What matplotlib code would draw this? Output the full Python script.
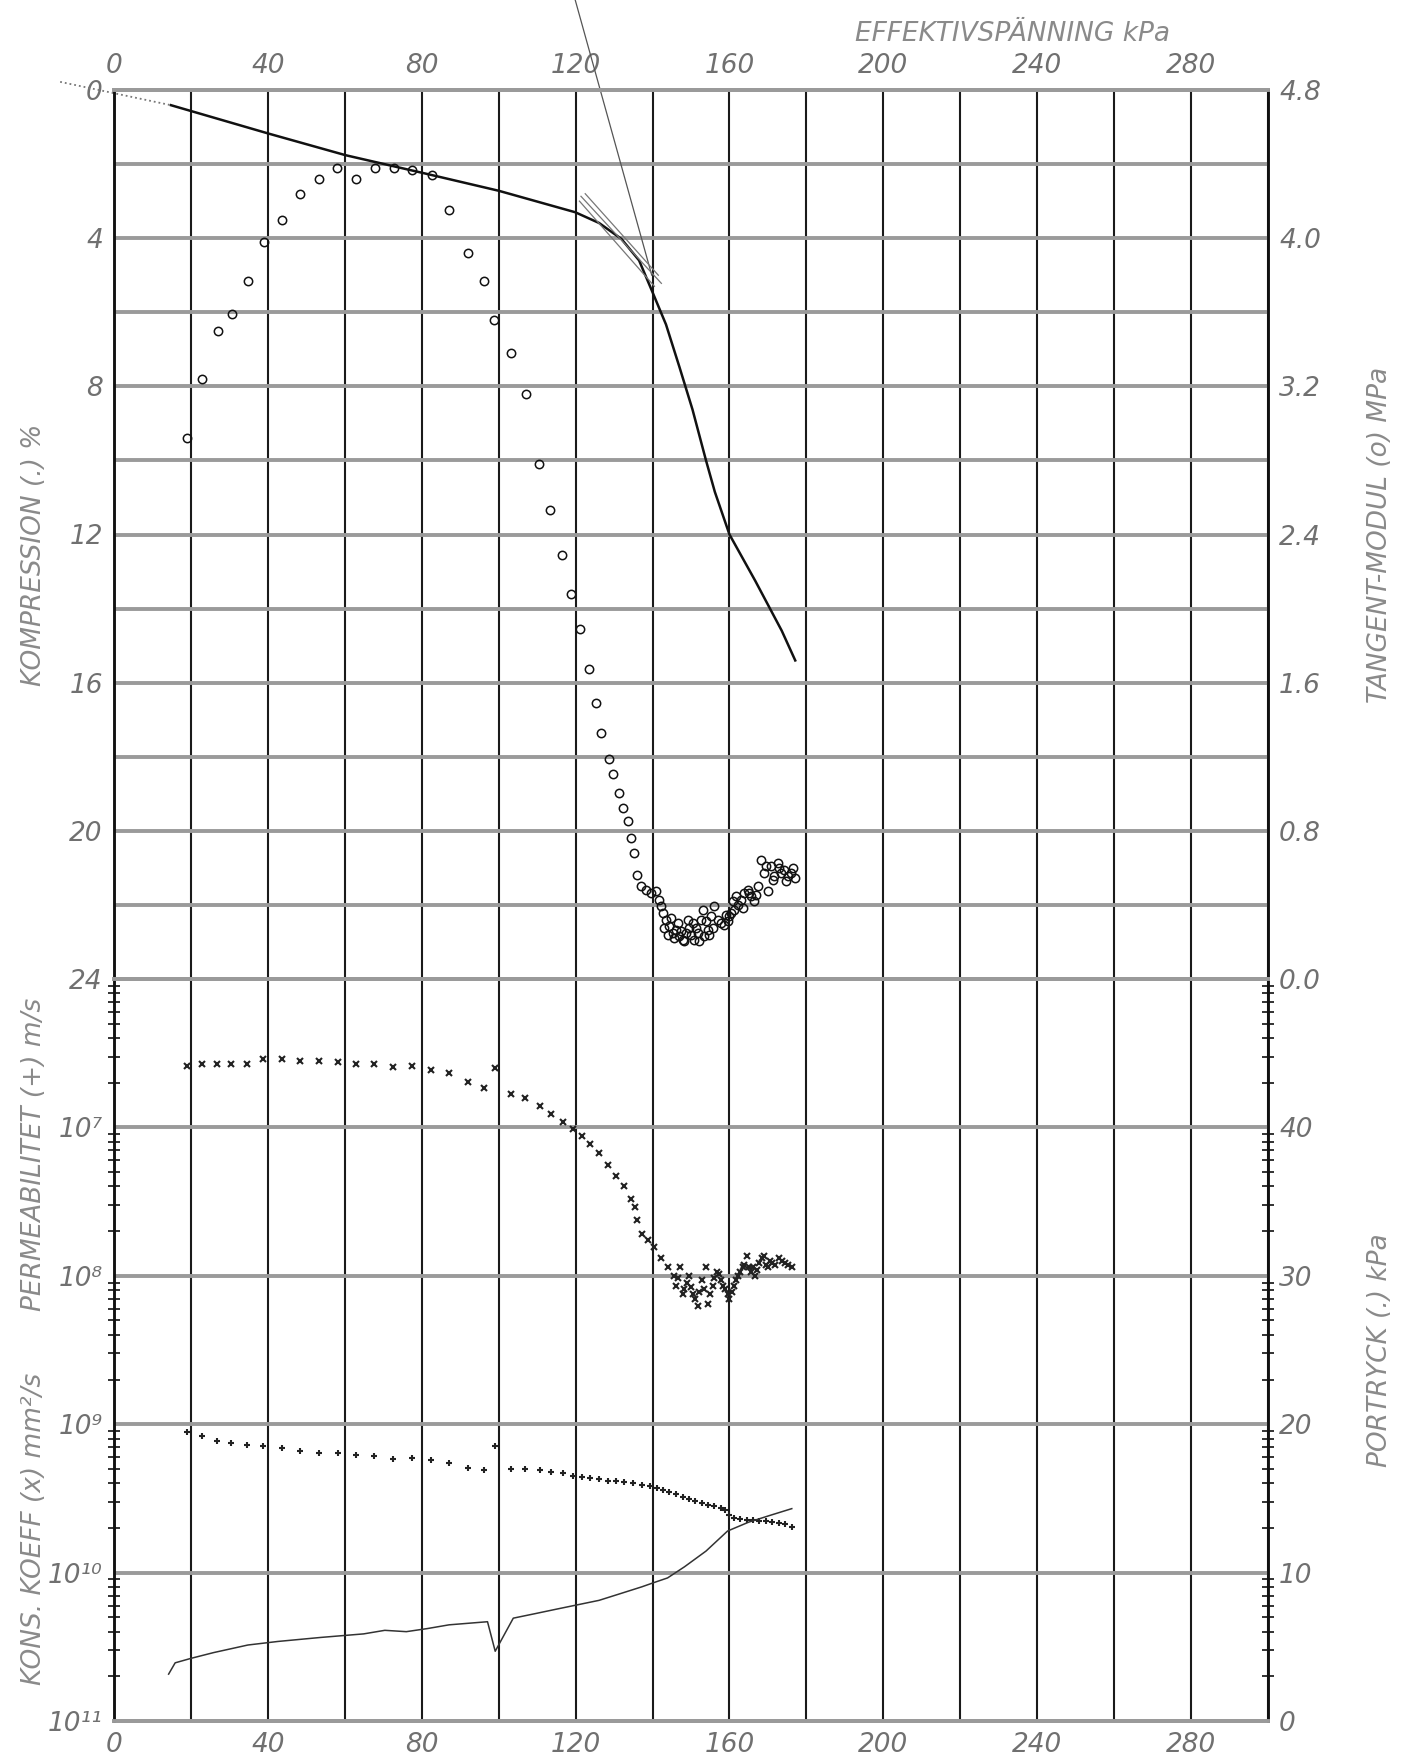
import matplotlib.pyplot as plt
from matplotlib.ticker import LogLocator, NullFormatter

plt.rcParams['font.family'] = ['DejaVu Sans']
plt.rcParams['font.style'] = 'italic'

# --- data --------------------------------------------------------------
# compression curve: effective stress (kPa) vs compression (%)
comp_kpa = [14.8, 40.3, 60.2, 80.3, 100.0, 119.9, 126.1, 131.9, 136.5, 140.0,
            143.5, 147.0, 150.4, 153.9, 156.2, 160.0, 166.7, 173.6, 177.1]
comp_pct = [0.41, 1.18, 1.76, 2.24, 2.72, 3.30, 3.59, 4.02, 4.60, 5.46,
            6.33, 7.48, 8.63, 10.0, 10.85, 12.0, 13.25, 14.6, 15.4]
ext_kpa = [-14.0, 14.8]
ext_pct = [-0.22, 0.41]
# preconsolidation construction lines
pc_kpa = [119.9, 139.8]
pc_pct = [-2.43, 5.0]
tan_kpa = [[121.4, 142.3], [122.5, 141.5], [121.0, 140.5]]
tan_pct = [[2.87, 5.22], [2.80, 5.00], [3.00, 5.30]]

# tangent modulus (MPa)
mod_kpa = [19.1, 22.9, 27.0, 30.8, 34.8, 38.9, 43.8, 48.4, 53.4, 58.0, 62.9, 67.9,
           72.8, 77.4, 82.6, 87.0, 91.9, 96.2, 98.8, 103.1, 107.0, 110.4, 113.3,
           116.5, 118.9, 121.2, 123.5, 125.2, 126.7, 128.7, 129.6, 131.3, 132.2,
           133.5, 134.3, 135.2, 135.9,
           137.0, 138.3, 139.6, 140.9, 141.7, 142.6, 143.5, 144.3, 145.2, 146.1,
           147.0, 147.8, 148.7, 149.6, 150.4, 150.9, 151.7, 152.6, 153.0, 153.5,
           154.3, 155.2, 156.1, 157.0, 157.8, 158.7, 159.6, 160.4, 161.3, 162.2,
           163.0, 163.9, 164.8, 165.7, 166.5, 167.4, 168.3, 169.1, 170.0, 170.9,
           171.7, 172.6, 173.5, 174.3, 175.2, 176.1, 177.0,
           142.2, 143.0, 143.9, 144.8, 145.7, 146.5, 147.4, 148.3, 149.1, 150.0,
           151.3, 152.2, 153.9, 154.8, 155.7, 159.1, 160.0, 160.9, 161.7, 163.5,
           165.2, 167.0, 169.6, 171.3, 173.0, 174.8, 176.5]
mod_mpa = [2.92, 3.24, 3.50, 3.59, 3.77, 3.98, 4.10, 4.24, 4.32, 4.38, 4.32, 4.38,
           4.38, 4.37, 4.34, 4.15, 3.92, 3.77, 3.56, 3.38, 3.16, 2.78, 2.53,
           2.29, 2.08, 1.89, 1.672, 1.492, 1.330, 1.186, 1.105, 1.005, 0.924,
           0.852, 0.762, 0.681, 0.564,
           0.501, 0.483, 0.465, 0.474, 0.429, 0.357, 0.321, 0.285, 0.249, 0.267,
           0.231, 0.213, 0.249, 0.276, 0.303, 0.213, 0.249, 0.321, 0.375, 0.231,
           0.267, 0.339, 0.393, 0.321, 0.303, 0.294, 0.312, 0.357, 0.375, 0.402,
           0.429, 0.465, 0.483, 0.447, 0.420, 0.501, 0.645, 0.573, 0.474, 0.609,
           0.555, 0.627, 0.573, 0.591, 0.555, 0.573, 0.546,
           0.393, 0.276, 0.240, 0.330, 0.222, 0.303, 0.258, 0.204, 0.321, 0.240,
           0.276, 0.204, 0.312, 0.240, 0.276, 0.348, 0.339, 0.420, 0.447, 0.384,
           0.465, 0.456, 0.609, 0.537, 0.600, 0.528, 0.600]

# consolidation coefficient (x)
cv_kpa = [19.0, 22.8, 26.7, 30.4, 34.6, 38.7, 43.7, 48.4, 53.4, 58.2, 62.8, 67.7,
          72.5, 77.5, 82.4, 87.1, 91.9, 96.3, 99.1, 103.2, 106.9, 110.7, 113.6,
          116.6, 119.4, 121.6, 123.8, 126.1, 128.3, 130.5, 132.7, 134.4, 135.5,
          135.9, 137.2, 138.9, 140.5, 142.2, 143.9, 145.5,
          146.1, 147.2, 148.3, 149.4, 150.5, 151.7, 152.8, 153.9, 154.4, 155.6,
          156.7, 157.8, 158.9, 160.0, 161.1, 162.2, 163.4, 164.5, 165.6, 166.7,
          167.8, 168.9, 170.0, 171.1, 172.8, 174.5, 176.2,
          146.7, 147.8, 148.9, 150.0, 151.1, 152.2, 153.3, 155.0, 156.1, 157.2,
          158.3, 159.5, 160.6, 161.7, 162.8, 163.9, 165.0, 166.1, 167.2, 168.4,
          169.5, 170.6, 171.9, 173.7, 175.3]
cv_val = [2.59e-7, 2.68e-7, 2.68e-7, 2.68e-7, 2.68e-7, 2.87e-7, 2.87e-7, 2.81e-7,
          2.81e-7, 2.77e-7, 2.68e-7, 2.68e-7, 2.55e-7, 2.59e-7, 2.45e-7, 2.33e-7,
          2.03e-7, 1.85e-7, 2.50e-7, 1.68e-7, 1.59e-7, 1.39e-7, 1.23e-7, 1.09e-7,
          9.7e-8, 8.8e-8, 7.7e-8, 6.7e-8, 5.6e-8, 4.7e-8, 4.0e-8, 3.3e-8, 2.9e-8,
          2.36e-8, 1.92e-8, 1.73e-8, 1.56e-8, 1.31e-8, 1.14e-8, 9.9e-9,
          8.6e-9, 1.14e-8, 8.1e-9, 9.9e-9, 7.5e-9, 6.3e-9, 9.3e-9, 1.14e-8, 6.5e-9,
          8.6e-9, 1.06e-8, 9.3e-9, 8.1e-9, 7.0e-9, 8.6e-9, 9.9e-9, 1.14e-8, 1.36e-8,
          1.06e-8, 9.9e-9, 1.22e-8, 1.36e-8, 1.14e-8, 1.22e-8, 1.31e-8, 1.22e-8,
          1.14e-8,
          9.6e-9, 7.5e-9, 9.0e-9, 8.4e-9, 7.0e-9, 7.8e-9, 8.1e-9, 7.5e-9, 9.6e-9,
          1.03e-8, 8.6e-9, 7.5e-9, 7.8e-9, 9.3e-9, 1.06e-8, 1.18e-8, 1.14e-8,
          1.14e-8, 1.10e-8, 1.31e-8, 1.18e-8, 1.26e-8, 1.18e-8, 1.26e-8, 1.18e-8]

# permeability (+)
k_kpa = [19.0, 22.8, 26.7, 30.4, 34.6, 38.7, 43.7, 48.4, 53.4, 58.2, 62.8, 67.7,
         72.5, 77.5, 82.4, 87.1, 91.9, 96.3, 99.1, 103.2, 106.9, 110.7, 113.6,
         116.6, 119.4,
         121.6, 123.8, 126.1, 128.3, 130.5, 132.7, 135.0, 137.2, 139.4, 141.1,
         142.8, 144.4, 146.1, 147.8, 149.4, 151.1, 152.8, 154.4, 156.1, 157.8,
         158.9, 160.0, 161.1, 162.8, 164.5, 166.1, 167.8, 169.5, 171.1, 172.8,
         174.5, 176.2]
k_val = [8.9e-10, 8.3e-10, 7.7e-10, 7.5e-10, 7.2e-10, 7.1e-10, 6.9e-10, 6.6e-10,
         6.4e-10, 6.4e-10, 6.2e-10, 6.1e-10, 5.8e-10, 5.9e-10, 5.7e-10, 5.5e-10,
         5.1e-10, 4.9e-10, 7.1e-10, 5.0e-10, 5.0e-10, 4.9e-10, 4.8e-10, 4.7e-10,
         4.5e-10,
         4.39e-10, 4.33e-10, 4.24e-10, 4.17e-10, 4.14e-10, 4.09e-10, 4.03e-10,
         3.92e-10, 3.81e-10, 3.73e-10, 3.63e-10, 3.51e-10, 3.37e-10, 3.25e-10,
         3.14e-10, 3.03e-10, 2.93e-10, 2.85e-10, 2.79e-10, 2.73e-10, 2.66e-10,
         2.43e-10, 2.35e-10, 2.30e-10, 2.26e-10, 2.25e-10, 2.23e-10, 2.22e-10,
         2.19e-10, 2.16e-10, 2.11e-10, 2.04e-10]

# pore pressure (kPa)
pp_kpa = [14.2, 15.9, 20.0, 25.9, 34.8, 42.6, 53.7, 64.9, 70.4, 76.0, 81.5, 87.1,
          97.1, 99.1, 103.8, 109.4, 114.9, 120.5, 126.1, 131.6, 137.2, 140.5,
          143.9, 148.3, 153.9, 159.5, 165.0, 170.6, 176.2]
pp_val = [3.16, 3.92, 4.22, 4.61, 5.12, 5.36, 5.63, 5.87, 6.11, 6.02, 6.23, 6.48,
          6.69, 4.7, 6.93, 7.23, 7.53, 7.83, 8.13, 8.58, 9.04, 9.34, 9.64, 10.39,
          11.45, 12.80, 13.40, 13.86, 14.31]

# axis ticks and labels
x_ticks = list(range(0, 301, 20))
x_labels = ['0', '', '40', '', '80', '', '120', '', '160', '', '200', '', '240', '', '280', '']
comp_ticks = list(range(0, 25, 2))
comp_labels = ['0', '', '4', '', '8', '', '12', '', '16', '', '20', '', '24']
mod_ticks = [0.0, 0.8, 1.6, 2.4, 3.2, 4.0, 4.8]
mod_labels = ['0.0', '0.8', '1.6', '2.4', '3.2', '4.0', '4.8']
log_ticks = [1e-11, 1e-10, 1e-9, 1e-8, 1e-7]
log_labels = ['10¹¹', '10¹⁰', '10⁹', '10⁸', '10⁷']
pp_ticks = [0, 10, 20, 30, 40]
pp_labels = ['0', '10', '20', '30', '40']

tick_col = '#707070'
title_col = '#8a8a8a'
hgrid_col = '#9a9a9a'
fs = 19

fig = plt.figure(figsize=(14.04, 17.55), dpi=100)
L, W = 114 / 1404, 1154 / 1404
ax_top = fig.add_axes([L, 1 - 979 / 1755, W, 889 / 1755])
ax_low = fig.add_axes([L, 1 - 1721 / 1755, W, 742 / 1755])

# upper panel: compression + tangent modulus
ax_top.set_xlim(0, 300)
ax_top.set_ylim(24, 0)
ax_top.set_xticks(x_ticks)
ax_top.set_xticklabels(x_labels)
ax_top.xaxis.tick_top()
ax_top.set_yticks(comp_ticks)
ax_top.set_yticklabels(comp_labels)
ax_top.grid(axis='x', color='#1a1a1a', lw=1.5)
ax_top.grid(axis='y', color=hgrid_col, lw=2.8)

ax_top.plot(comp_kpa, comp_pct, color='#111111', lw=1.8)
ax_top.plot(ext_kpa, ext_pct, ls=':', color='#777777', lw=1.3, clip_on=False)
ax_top.plot(pc_kpa, pc_pct, color='#555555', lw=0.9, clip_on=False)
for tx, ty in zip(tan_kpa, tan_pct):
    ax_top.plot(tx, ty, color='#777777', lw=0.9)

ax_mod = ax_top.twinx()
ax_mod.set_ylim(0, 4.8)
ax_mod.set_yticks(mod_ticks)
ax_mod.set_yticklabels(mod_labels)
ax_mod.plot(mod_kpa, mod_mpa, 'o', ms=6, mfc='none', mec='#111111', mew=1.1)

# lower panel: cons. coefficient, permeability, pore pressure
ax_low.set_yscale('log')
ax_low.set_xlim(0, 300)
ax_low.set_ylim(1e-11, 1e-6)
ax_low.set_xticks(x_ticks)
ax_low.set_xticklabels(x_labels)
ax_low.set_yticks(log_ticks)
ax_low.set_yticklabels(log_labels)
ax_low.grid(axis='x', color='#1a1a1a', lw=1.5)
ax_low.grid(axis='y', which='major', color=hgrid_col, lw=2.8)

ax_low.plot(cv_kpa, cv_val, 'x', ms=5, mew=1.5, color='#222222')
ax_low.plot(k_kpa, k_val, '+', ms=5, mew=1.5, color='#222222')

ax_pp = ax_low.twinx()
ax_pp.set_ylim(0, 50)
ax_pp.set_yticks(pp_ticks)
ax_pp.set_yticklabels(pp_labels)
ax_pp.plot(pp_kpa, pp_val, color='#333333', lw=1.1)

ax_low.yaxis.set_minor_locator(LogLocator(base=10, subs=[2, 3, 4, 5, 6, 7, 8, 9], numticks=20))
ax_low.yaxis.set_minor_formatter(NullFormatter())
ax_low.tick_params(axis='y', which='minor', direction='inout', length=9, width=1.2,
                   left=True, right=True, color='#111111')

for ax in (ax_top, ax_mod, ax_low, ax_pp):
    ax.tick_params(which='major', length=0, labelsize=fs, labelcolor=tick_col, pad=8)
    for side in ('left', 'right'):
        ax.spines[side].set_color('#111111')
        ax.spines[side].set_linewidth(1.8)
    for side in ('top', 'bottom'):
        ax.spines[side].set_color(hgrid_col)
        ax.spines[side].set_linewidth(2.8)

# axis titles
fig.text(0.7208, 0.9806, 'EFFEKTIVSPÄNNING kPa', ha='center', va='center',
         fontsize=fs, color=title_col)
fig.text(0.0242, 0.6838, 'KOMPRESSION (.) %', rotation=90, ha='center', va='center',
         fontsize=fs, color=title_col)
fig.text(0.0242, 0.3425, 'PERMEABILITET (+) m/s', rotation=90, ha='center', va='center',
         fontsize=fs, color=title_col)
fig.text(0.0242, 0.1288, 'KONS. KOEFF (x) mm²/s', rotation=90, ha='center', va='center',
         fontsize=fs, color=title_col)
fig.text(0.983, 0.695, 'TANGENT-MODUL (o) MPa', rotation=90, ha='center', va='center',
         fontsize=fs, color=title_col)
fig.text(0.983, 0.2308, 'PORTRYCK (.) kPa', rotation=90, ha='center', va='center',
         fontsize=fs, color=title_col)

fig.savefig('out.png', dpi=100, facecolor='white')
